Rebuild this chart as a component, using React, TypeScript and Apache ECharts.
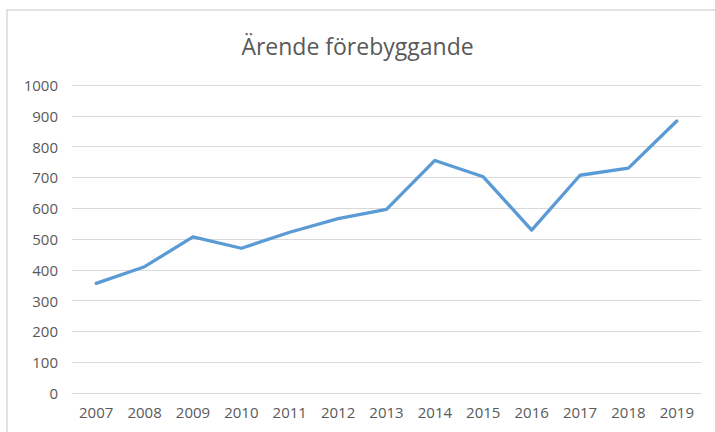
import React, { useEffect, useRef } from "react";
import * as echarts from "echarts";

const years = ["2007", "2008", "2009", "2010", "2011", "2012", "2013", "2014", "2015", "2016", "2017", "2018", "2019"];
const arenden = [356, 410, 507, 470, 522, 566, 596, 755, 702, 529, 707, 730, 883];
const titleText = "Ärende förebyggande";

export default function App() {
  const ref = useRef<HTMLDivElement>(null);
  useEffect(() => {
    if (!ref.current) return;
    const chart = echarts.init(ref.current, null, { renderer: "svg" });
    chart.setOption({
      animation: false,
      backgroundColor: "#ffffff",
      textStyle: { fontFamily: "Open Sans" },
      title: {
        text: titleText,
        left: "center",
        top: 29,
        textStyle: { fontFamily: "Open Sans", fontSize: 23, fontWeight: "normal", color: "#595959" },
      },
      graphic: [
        {
          type: "rect",
          shape: { x: 7, y: 10, width: 760, height: 480 },
          style: { fill: "none", stroke: "#d9d9d9", lineWidth: 1.5 },
          silent: true,
        },
      ],
      grid: { left: 72, right: 14, top: 85, bottom: 39, containLabel: false },
      xAxis: {
        type: "category",
        data: years,
        boundaryGap: true,
        axisLine: { show: true, lineStyle: { color: "#d9d9d9", width: 1 } },
        axisTick: { show: false },
        axisLabel: { color: "#595959", fontSize: 15, margin: 11, fontFamily: "Open Sans" },
      },
      yAxis: {
        type: "value",
        min: 0,
        max: 1000,
        interval: 100,
        axisLine: { show: false },
        axisTick: { show: false },
        axisLabel: {
          color: "#595959",
          fontSize: 15,
          margin: 14,
          fontFamily: "Open Sans",
          formatter: (v: number) => String(v),
        },
        splitLine: { lineStyle: { color: "#d9d9d9", width: 1 } },
      },
      series: [
        {
          type: "line",
          data: arenden,
          showSymbol: false,
          symbol: "none",
          lineStyle: { color: "#5B9BD5", width: 3.3, cap: "round", join: "round" },
          itemStyle: { color: "#5B9BD5" },
        },
      ],
    });
    return () => chart.dispose();
  }, []);
  return <div ref={ref} style={{ position: "absolute", left: 0, top: 0, width: 715, height: 432 }} />;
}
